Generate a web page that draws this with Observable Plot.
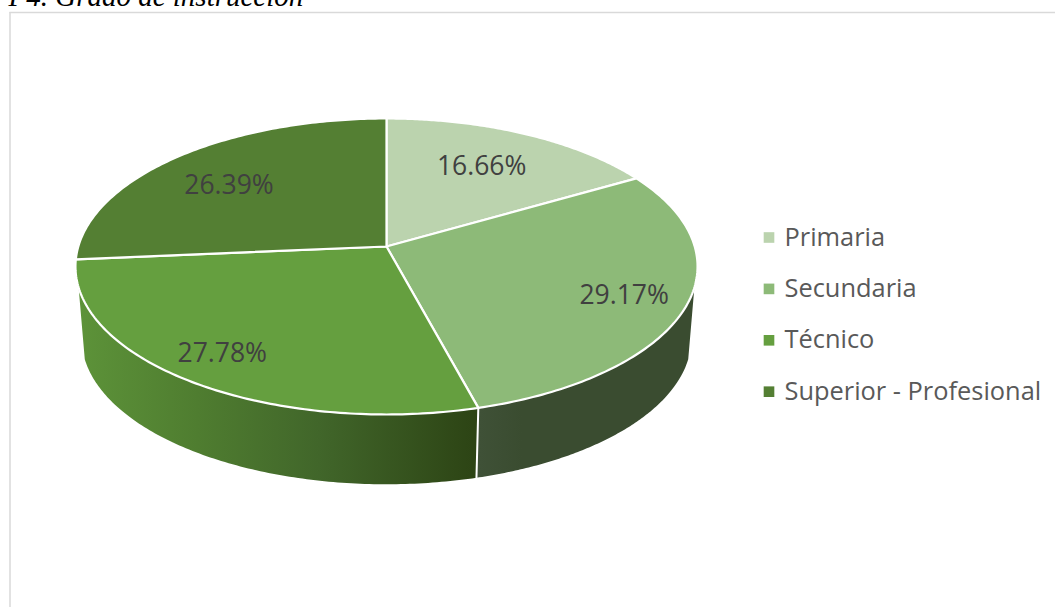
<!DOCTYPE html>
<html>
<head>
<meta charset="utf-8">
<script src="https://cdn.jsdelivr.net/npm/d3@7"></script>
<script src="https://cdn.jsdelivr.net/npm/@observablehq/plot@0.6"></script>
<style>
html,body{margin:0;padding:0;background:#fff;overflow:hidden}
svg{display:block}
</style>
</head>
<body>
<script>
const title = "P4. Grado de instrucción";
const categories = ["Primaria", "Secundaria", "Técnico", "Superior - Profesional"];
const values = [16.66, 29.17, 27.78, 26.39];
const labels = ["16.66%", "29.17%", "27.78%", "26.39%"];
const colors = ["#BBD3AE", "#8DBA78", "#659F3F", "#547F33"];
const labelRadius = [0.70, 0.80, 0.81, 0.71];
const labelNudge = [[-4.5, 1], [0, 3], [-7, 1], [-6, 4]];

// 3D view of the disc
const view = {cx: 386, cy: 246, b: 308.2, a: 145.3, k: 0.135,
  bottomCy: 338, rimCy: 266, scaleX: 0.98, scaleY: 0.985, silhouette: 0.272};
const W = 1055, H = 607;

function topPoint(theta, r = 1) {
  const s = r * Math.sin(theta), c = -r * Math.cos(theta), d = 1 - view.k * c;
  return [view.cx + view.b * s / d, view.cy + view.a * c / d];
}
function bottomPoint(theta) {
  const [x, y] = topPoint(theta);
  return [view.cx + (x - view.cx) * view.scaleX, view.bottomCy + (y - view.rimCy) * view.scaleY];
}
const total = d3.sum(values);
const slices = [];
let cum = 0;
values.forEach((v, i) => {
  const a0 = cum / total * 2 * Math.PI;
  cum += v;
  slices.push({i, a0, a1: cum / total * 2 * Math.PI});
});
const arcAngles = (a0, a1) => d3.range(0, 121).map(j => a0 + (a1 - a0) * j / 120);

const face = slices.flatMap(s => [
  {cat: categories[s.i], p: [view.cx, view.cy]},
  ...arcAngles(s.a0, s.a1).map(t => ({cat: categories[s.i], p: topPoint(t)}))
]);
function wall(a0, a1) {
  const ts = arcAngles(a0, a1);
  return [...ts.map(t => ({p: topPoint(t)})), ...ts.slice().reverse().map(t => ({p: bottomPoint(t)}))];
}
const rightTangent = Math.PI / 2 + Math.asin(view.silhouette);
const leftTangent = 3 * Math.PI / 2 - Math.asin(view.silhouette);
const wallSec = wall(rightTangent, slices[1].a1);
const wallTec = wall(slices[2].a0, leftTangent);

const labelData = slices.map(s => {
  const [x, y] = topPoint((s.a0 + s.a1) / 2, labelRadius[s.i]);
  return {x: x + labelNudge[s.i][0], y: y + labelNudge[s.i][1], text: labels[s.i]};
});
const legend = {markX: 768.5, textX: 784, y0: 237, step: 51.4};
const legendData = categories.map((c, i) => ({c, y: legend.y0 + i * legend.step}));

const defs = () => {
  const d = d3.create("svg:defs");
  const g1 = d.append("linearGradient").attr("id", "wallTec").attr("gradientUnits", "userSpaceOnUse")
    .attr("x1", 76).attr("x2", 479).attr("y1", 0).attr("y2", 0);
  [[0, "#5D9339"], [0.3, "#4F7D30"], [0.6, "#41662A"], [1, "#2C4314"]].forEach(([o, c]) =>
    g1.append("stop").attr("offset", o).attr("stop-color", c));
  const g2 = d.append("linearGradient").attr("id", "wallSec").attr("gradientUnits", "userSpaceOnUse")
    .attr("x1", 479).attr("x2", 692).attr("y1", 0).attr("y2", 0);
  [[0, "#3F5137"], [0.2, "#3A4C30"], [1, "#3A4C30"]].forEach(([o, c]) =>
    g2.append("stop").attr("offset", o).attr("stop-color", c));
  return d.node();
};

const font = "'Open Sans', sans-serif";
const chart = Plot.plot({
  width: W, height: H, margin: 0,
  x: {domain: [0, W], range: [0, W], axis: null},
  y: {domain: [0, H], range: [0, H], axis: null},
  color: {domain: categories, range: colors},
  style: {background: "#fff", overflow: "hidden"},
  marks: [
    defs,
    Plot.ruleY([12], {x1: 9.5, x2: W, stroke: "#D9D9D9", strokeWidth: 1.5}),
    Plot.ruleX([9.5], {y1: 12, y2: H, stroke: "#D9D9D9", strokeWidth: 1.5}),
    Plot.text([title], {x: 8, y: 5, text: d => d, textAnchor: "start", lineAnchor: "bottom",
      fontFamily: "'Liberation Serif', serif", fontStyle: "italic", fontSize: 29, fill: "#000"}),
    Plot.line(wallSec, {x: d => d.p[0], y: d => d.p[1], curve: "linear-closed", fill: "url(#wallSec)", stroke: "none"}),
    Plot.line(wallTec, {x: d => d.p[0], y: d => d.p[1], curve: "linear-closed", fill: "url(#wallTec)", stroke: "none"}),
    Plot.line([topPoint(slices[1].a1), bottomPoint(slices[1].a1)], {x: d => d[0], y: d => d[1], stroke: "#fff", strokeWidth: 2}),
    Plot.line(face, {x: d => d.p[0], y: d => d.p[1], z: "cat", fill: "cat", curve: "linear-closed",
      stroke: "#fff", strokeWidth: 2.2, strokeLinejoin: "round"}),
    Plot.text(labelData, {x: "x", y: "y", text: "text", fontFamily: font, fontSize: 26.5, fill: "#404040"}),
    Plot.dot(legendData, {x: legend.markX, y: "y", symbol: "square", r: 6, fill: "c", stroke: "none"}),
    Plot.text(legendData, {x: legend.textX, y: "y", text: "c", textAnchor: "start",
      fontFamily: font, fontSize: 25.4, fill: "#595959"})
  ]
});
document.body.appendChild(chart);
</script>
</body>
</html>
